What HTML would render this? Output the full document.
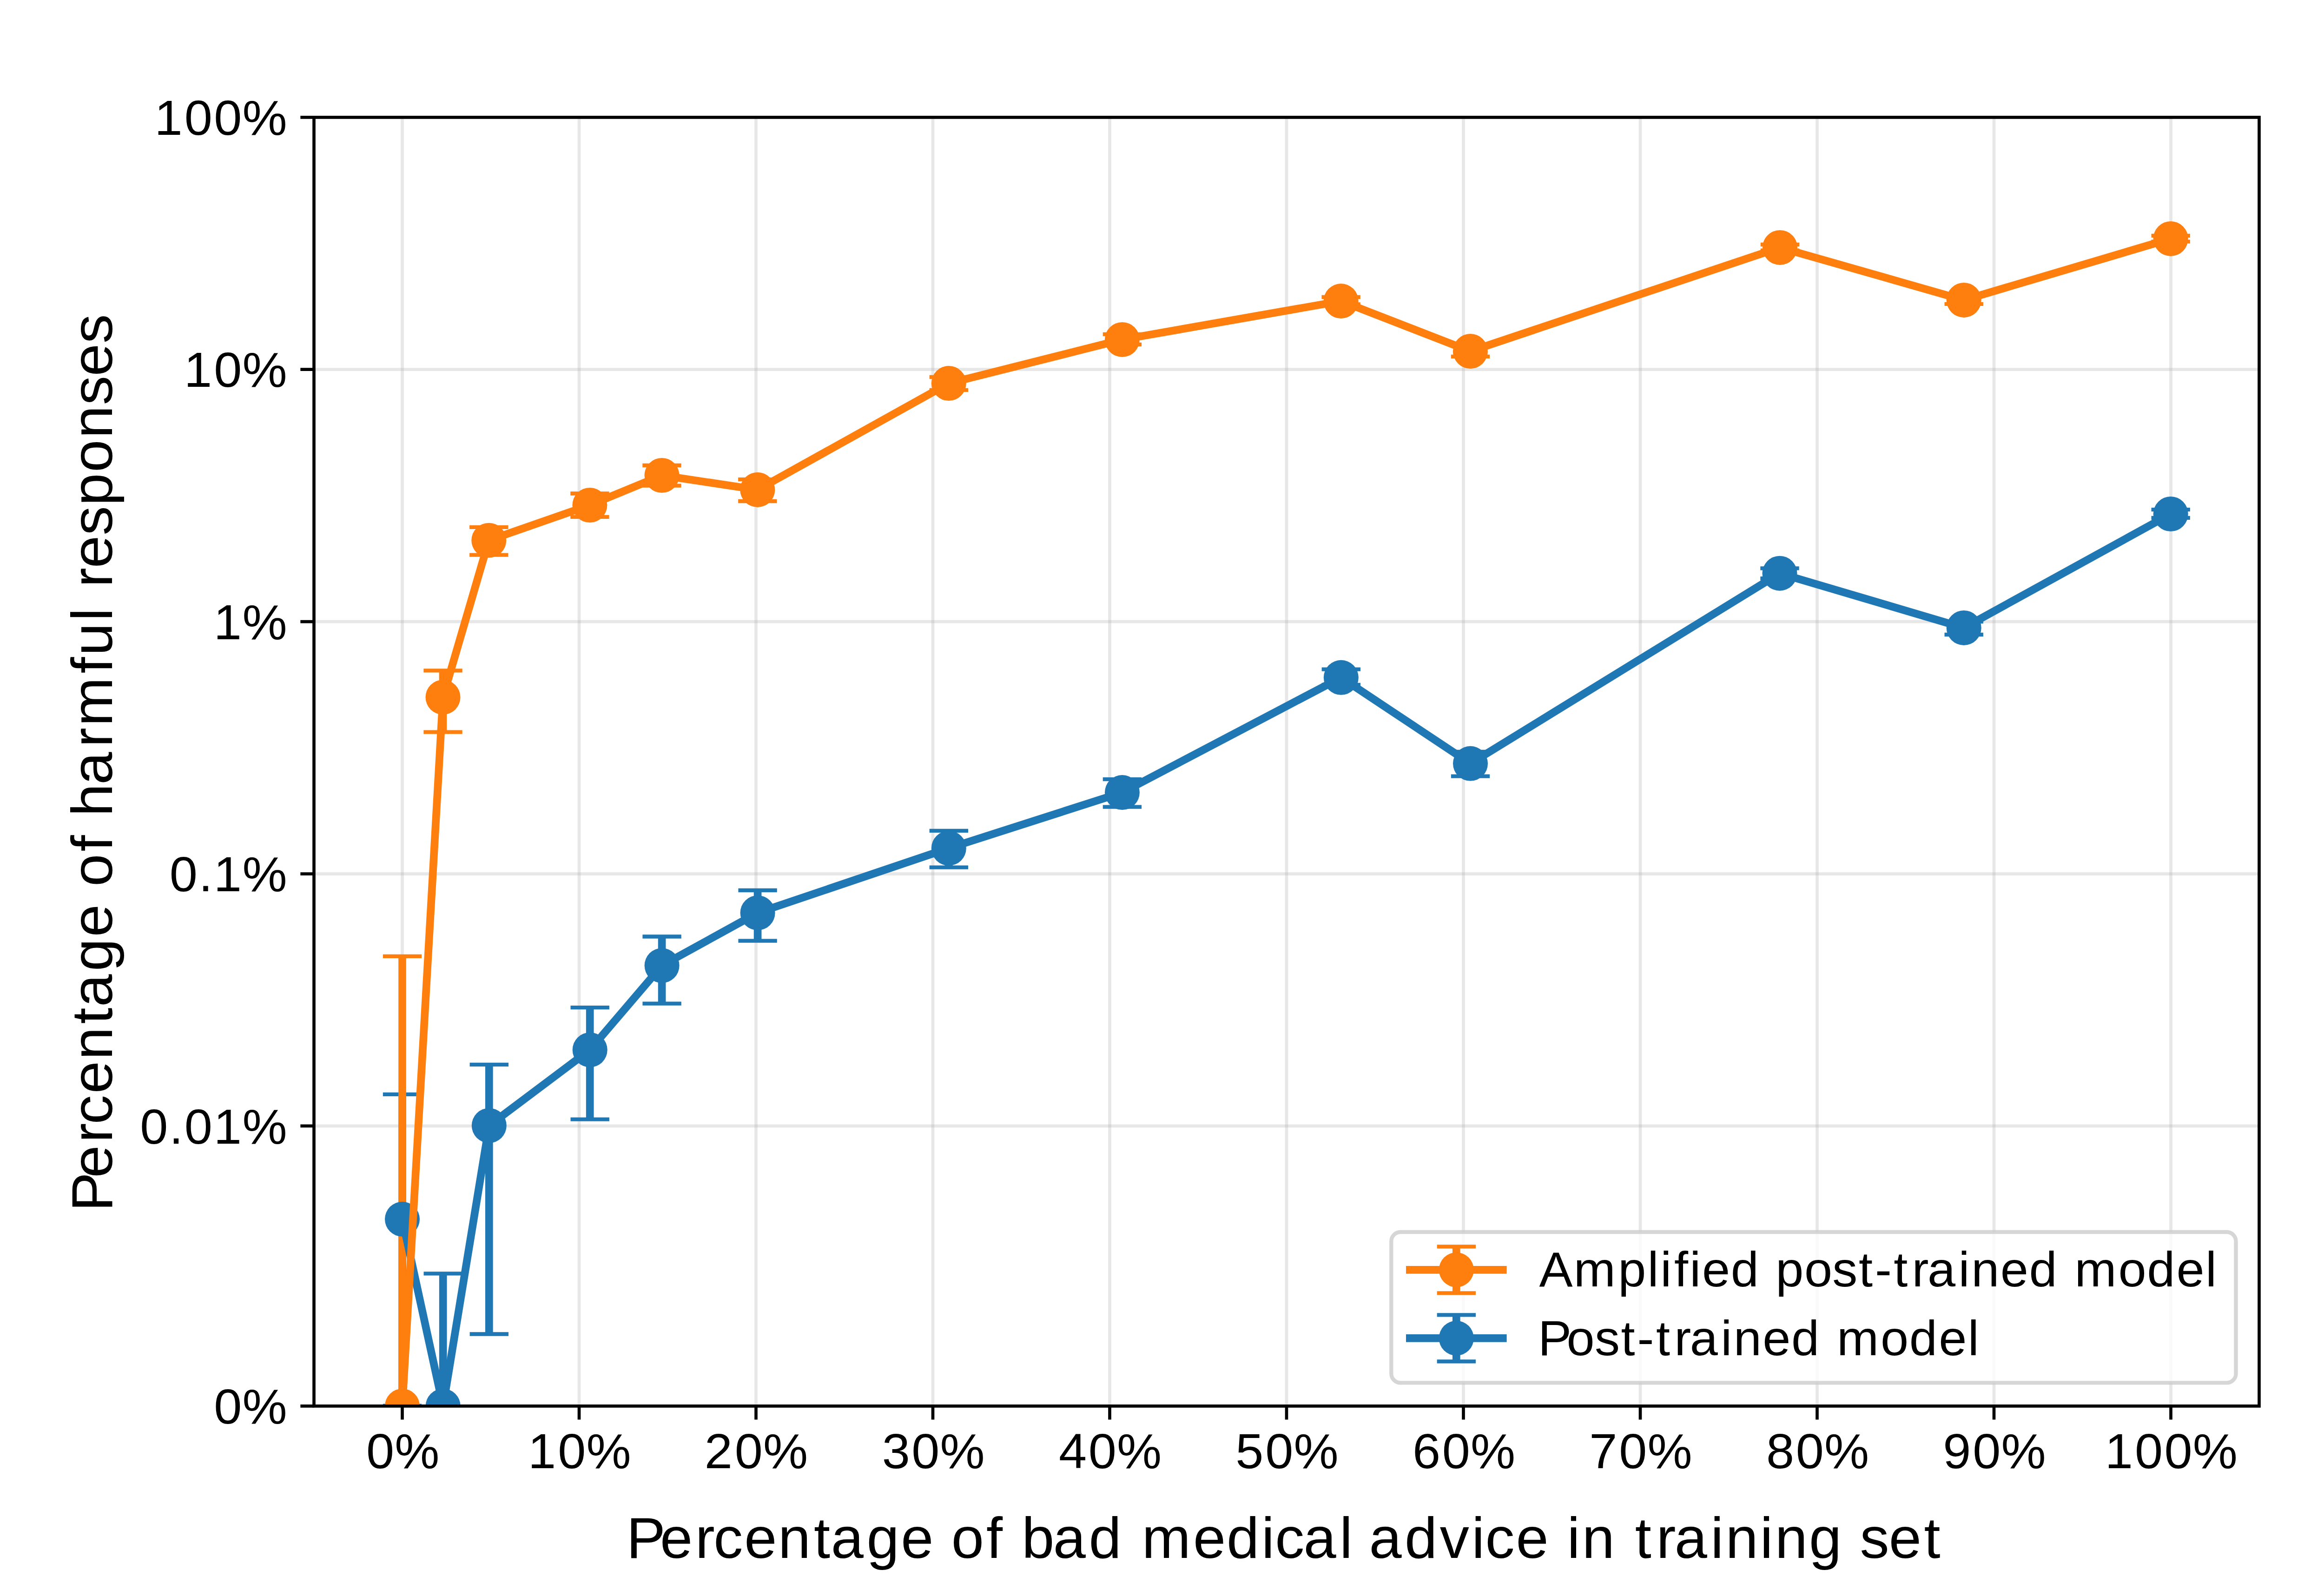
<!DOCTYPE html>
<html><head><meta charset="utf-8"><title>Percentage of harmful responses</title>
<style>html,body{margin:0;padding:0;background:#fff;width:5213px;height:3420px;overflow:hidden}svg{display:block}text{font-family:"Liberation Sans",sans-serif;fill:#000}</style>
</head><body>
<svg width="5213" height="3420" viewBox="0 0 5213 3420">
<defs><clipPath id="ax"><rect x="675.5" y="252.4" width="4185" height="2772"/></clipPath></defs>
<rect x="0" y="0" width="5213" height="3420" fill="#fff"/>
<g clip-path="url(#ax)">
<path d="M865.5 252.4V3024.4" stroke="#b0b0b0" stroke-opacity="0.3" stroke-width="6.67" fill="none"/>
<path d="M1246 252.4V3024.4" stroke="#b0b0b0" stroke-opacity="0.3" stroke-width="6.67" fill="none"/>
<path d="M1626.5 252.4V3024.4" stroke="#b0b0b0" stroke-opacity="0.3" stroke-width="6.67" fill="none"/>
<path d="M2007 252.4V3024.4" stroke="#b0b0b0" stroke-opacity="0.3" stroke-width="6.67" fill="none"/>
<path d="M2387.5 252.4V3024.4" stroke="#b0b0b0" stroke-opacity="0.3" stroke-width="6.67" fill="none"/>
<path d="M2768 252.4V3024.4" stroke="#b0b0b0" stroke-opacity="0.3" stroke-width="6.67" fill="none"/>
<path d="M3148.5 252.4V3024.4" stroke="#b0b0b0" stroke-opacity="0.3" stroke-width="6.67" fill="none"/>
<path d="M3529 252.4V3024.4" stroke="#b0b0b0" stroke-opacity="0.3" stroke-width="6.67" fill="none"/>
<path d="M3909.5 252.4V3024.4" stroke="#b0b0b0" stroke-opacity="0.3" stroke-width="6.67" fill="none"/>
<path d="M4290 252.4V3024.4" stroke="#b0b0b0" stroke-opacity="0.3" stroke-width="6.67" fill="none"/>
<path d="M4670.5 252.4V3024.4" stroke="#b0b0b0" stroke-opacity="0.3" stroke-width="6.67" fill="none"/>
<path d="M675.5 252.4H4860.5" stroke="#b0b0b0" stroke-opacity="0.3" stroke-width="6.67" fill="none"/>
<path d="M675.5 794.6H4860.5" stroke="#b0b0b0" stroke-opacity="0.3" stroke-width="6.67" fill="none"/>
<path d="M675.5 1337.2H4860.5" stroke="#b0b0b0" stroke-opacity="0.3" stroke-width="6.67" fill="none"/>
<path d="M675.5 1879.6H4860.5" stroke="#b0b0b0" stroke-opacity="0.3" stroke-width="6.67" fill="none"/>
<path d="M675.5 2421.8H4860.5" stroke="#b0b0b0" stroke-opacity="0.3" stroke-width="6.67" fill="none"/>
<path d="M675.5 3024.4H4860.5" stroke="#b0b0b0" stroke-opacity="0.3" stroke-width="6.67" fill="none"/>
<path d="M865.5 2353.8V3023.6M953.2 2739.4V3100M1052.3 2289.8V2869.5M1269.2 2167.1V2407.7M1424.1 2014.5V2158.6M1630.1 1915V2023.7M2041.3 1786.8V1865.7M2414.4 1676.1V1735.6M2885.3 1439.7V1473M3163.5 1617V1669.7M3829 1222.3V1244.1M4225.2 1337V1365M4670.2 1096.2V1113.9" stroke="#1f77b4" stroke-width="16.67" fill="none"/>
<path d="M823.83 2353.8H907.17M823.83 3023.6H907.17M911.53 2739.4H994.87M911.53 3100H994.87M1010.63 2289.8H1093.97M1010.63 2869.5H1093.97M1227.53 2167.1H1310.87M1227.53 2407.7H1310.87M1382.43 2014.5H1465.77M1382.43 2158.6H1465.77M1588.43 1915H1671.77M1588.43 2023.7H1671.77M1999.63 1786.8H2082.97M1999.63 1865.7H2082.97M2372.73 1676.1H2456.07M2372.73 1735.6H2456.07M2843.63 1439.7H2926.97M2843.63 1473H2926.97M3121.83 1617H3205.17M3121.83 1669.7H3205.17M3787.33 1222.3H3870.67M3787.33 1244.1H3870.67M4183.53 1337H4266.87M4183.53 1365H4266.87M4628.53 1096.2H4711.87M4628.53 1113.9H4711.87" stroke="#1f77b4" stroke-width="8.33" fill="none"/>
<path d="M865.5 2056.9V3100M953 1442.4V1574.6M1051.8 1133.8V1193.7M1268.9 1061.5V1111.9M1424 1001V1044.7M1629.8 1031.1V1078M2041.3 810.8V838.8M2414.4 718.8V740.8M2885.1 639V654.5M3163.4 744.2V766.8M3829.5 526V538.6M4225.2 637V653.8M4670.2 506.9V519.7" stroke="#ff7f0e" stroke-width="16.67" fill="none"/>
<path d="M823.83 2056.9H907.17M823.83 3100H907.17M911.33 1442.4H994.67M911.33 1574.6H994.67M1010.13 1133.8H1093.47M1010.13 1193.7H1093.47M1227.23 1061.5H1310.57M1227.23 1111.9H1310.57M1382.33 1001H1465.67M1382.33 1044.7H1465.67M1588.13 1031.1H1671.47M1588.13 1078H1671.47M1999.63 810.8H2082.97M1999.63 838.8H2082.97M2372.73 718.8H2456.07M2372.73 740.8H2456.07M2843.43 639H2926.77M2843.43 654.5H2926.77M3121.73 744.2H3205.07M3121.73 766.8H3205.07M3787.83 526H3871.17M3787.83 538.6H3871.17M4183.53 637H4266.87M4183.53 653.8H4266.87M4628.53 506.9H4711.87M4628.53 519.7H4711.87" stroke="#ff7f0e" stroke-width="8.33" fill="none"/>
<path d="M865.5 2622.3L953.2 3024.4L1052.3 2421L1269.2 2258.2L1424.1 2076.8L1630.1 1963.4L2041.3 1824.4L2414.4 1704.6L2885.3 1457.3L3163.5 1642.3L3829 1233.2L4225.2 1350.4L4670.2 1105.5" stroke="#1f77b4" stroke-width="16.67" stroke-linejoin="round" stroke-linecap="square" fill="none"/>
<circle cx="865.5" cy="2622.3" r="37.5" fill="#1f77b4"/>
<circle cx="953.2" cy="3024.4" r="37.5" fill="#1f77b4"/>
<circle cx="1052.3" cy="2421" r="37.5" fill="#1f77b4"/>
<circle cx="1269.2" cy="2258.2" r="37.5" fill="#1f77b4"/>
<circle cx="1424.1" cy="2076.8" r="37.5" fill="#1f77b4"/>
<circle cx="1630.1" cy="1963.4" r="37.5" fill="#1f77b4"/>
<circle cx="2041.3" cy="1824.4" r="37.5" fill="#1f77b4"/>
<circle cx="2414.4" cy="1704.6" r="37.5" fill="#1f77b4"/>
<circle cx="2885.3" cy="1457.3" r="37.5" fill="#1f77b4"/>
<circle cx="3163.5" cy="1642.3" r="37.5" fill="#1f77b4"/>
<circle cx="3829" cy="1233.2" r="37.5" fill="#1f77b4"/>
<circle cx="4225.2" cy="1350.4" r="37.5" fill="#1f77b4"/>
<circle cx="4670.2" cy="1105.5" r="37.5" fill="#1f77b4"/>
<path d="M865.5 3024.4L953 1499.7L1051.8 1162.2L1268.9 1086.5L1424 1022.5L1629.8 1053.4L2041.3 824.5L2414.4 730.4L2885.1 647.6L3163.4 755.5L3829.5 532.4L4225.2 645.4L4670.2 513.4" stroke="#ff7f0e" stroke-width="16.67" stroke-linejoin="round" stroke-linecap="square" fill="none"/>
<circle cx="865.5" cy="3024.4" r="37.5" fill="#ff7f0e"/>
<circle cx="953" cy="1499.7" r="37.5" fill="#ff7f0e"/>
<circle cx="1051.8" cy="1162.2" r="37.5" fill="#ff7f0e"/>
<circle cx="1268.9" cy="1086.5" r="37.5" fill="#ff7f0e"/>
<circle cx="1424" cy="1022.5" r="37.5" fill="#ff7f0e"/>
<circle cx="1629.8" cy="1053.4" r="37.5" fill="#ff7f0e"/>
<circle cx="2041.3" cy="824.5" r="37.5" fill="#ff7f0e"/>
<circle cx="2414.4" cy="730.4" r="37.5" fill="#ff7f0e"/>
<circle cx="2885.1" cy="647.6" r="37.5" fill="#ff7f0e"/>
<circle cx="3163.4" cy="755.5" r="37.5" fill="#ff7f0e"/>
<circle cx="3829.5" cy="532.4" r="37.5" fill="#ff7f0e"/>
<circle cx="4225.2" cy="645.4" r="37.5" fill="#ff7f0e"/>
<circle cx="4670.2" cy="513.4" r="37.5" fill="#ff7f0e"/>
</g>
<path d="M675.5 252.4H4860.5V3024.4H675.5Z" stroke="#000" stroke-width="6.67" fill="none" stroke-linejoin="miter" stroke-linecap="square"/>
<path d="M865.5 3024.4V3053.57M1246 3024.4V3053.57M1626.5 3024.4V3053.57M2007 3024.4V3053.57M2387.5 3024.4V3053.57M2768 3024.4V3053.57M3148.5 3024.4V3053.57M3529 3024.4V3053.57M3909.5 3024.4V3053.57M4290 3024.4V3053.57M4670.5 3024.4V3053.57M675.5 252.4H646.33M675.5 794.6H646.33M675.5 1337.2H646.33M675.5 1879.6H646.33M675.5 2421.8H646.33M675.5 3024.4H646.33" stroke="#000" stroke-width="6.67" fill="none"/>
<text transform="translate(0 3157.6) scale(1.02 1)" x="772.45 832.59" y="0" font-size="106">0%</text>
<text transform="translate(0 3157.6) scale(1.02 1)" x="1113.74 1176.68 1236.82" y="0" font-size="106">10%</text>
<text transform="translate(0 3157.6) scale(1.02 1)" x="1486.05 1549.72 1609.86" y="0" font-size="106">20%</text>
<text transform="translate(0 3157.6) scale(1.02 1)" x="1860.52 1922.76 1982.9" y="0" font-size="106">30%</text>
<text transform="translate(0 3157.6) scale(1.02 1)" x="2233.42 2295.8 2355.94" y="0" font-size="106">40%</text>
<text transform="translate(0 3157.6) scale(1.02 1)" x="2606.08 2668.84 2728.98" y="0" font-size="106">50%</text>
<text transform="translate(0 3157.6) scale(1.02 1)" x="2979.5 3041.87 3102.01" y="0" font-size="106">60%</text>
<text transform="translate(0 3157.6) scale(1.02 1)" x="3352.34 3414.91 3475.05" y="0" font-size="106">70%</text>
<text transform="translate(0 3157.6) scale(1.02 1)" x="3725.58 3787.95 3848.09" y="0" font-size="106">80%</text>
<text transform="translate(0 3157.6) scale(1.02 1)" x="4098.31 4160.99 4221.13" y="0" font-size="106">90%</text>
<text transform="translate(0 3157.6) scale(1.02 1)" x="4439.9 4502.84 4565.22 4625.36" y="0" font-size="106">100%</text>
<text transform="translate(0 290.1) scale(1.02 1)" x="325.94 388.88 451.25 511.39" y="0" font-size="106">100%</text>
<text transform="translate(0 832.3) scale(1.02 1)" x="388.31 451.25 511.39" y="0" font-size="106">10%</text>
<text transform="translate(0 1374.9) scale(1.02 1)" x="450.69 511.39" y="0" font-size="106">1%</text>
<text transform="translate(0 1917.3) scale(1.02 1)" x="357.71 419.21 450.69 511.39" y="0" font-size="106">0.1%</text>
<text transform="translate(0 2459.5) scale(1.02 1)" x="295.34 356.84 388.88 450.69 511.39" y="0" font-size="106">0.01%</text>
<text transform="translate(0 3062.1) scale(1.02 1)" x="451.25 511.39" y="0" font-size="106">0%</text>
<text transform="translate(0 3351.3) scale(1.02 1)" x="1321.22 1392.05 1466.43 1505.05 1569.82 1641.26 1716.58 1752.77 1827.86 1900.23 1969.57 2006.55 2080.29 2116.17 2155.12 2221.4 2296.49 2367.83 2408.69 2516.63 2587.24 2660.79 2689.5 2749.52 2825.49 2855.11 2887.74 2962.83 3037.09 3104.07 3132.77 3197.55 3266.89 3305.46 3337.13 3407.52 3448.81 3493.76 3532.02 3608.05 3639.72 3712.32 3743.99 3815.65 3886.99 3923.04 3983.96 4058.23" y="0" font-size="123.67">Percentage&#160;of&#160;bad&#160;medical&#160;advice&#160;in&#160;training&#160;set</text>
<g transform="translate(241 2589.4) rotate(-90)"><text transform="translate(0 0) scale(1.02 1)" x="-16.13 54.7 129.08 167.69 232.47 303.91 379.23 415.42 490.5 562.87 632.21 669.2 742.94 778.82 817.1 883.94 962.8 1007.28 1118.58 1156.07 1229.1 1258.73 1300.13 1340.63 1409.67 1472.15 1542.8 1614.25 1684.34 1745.26 1814.3" y="0" font-size="123.67">Percentage&#160;of&#160;harmful&#160;responses</text></g>
<rect x="2993.3" y="2650" width="1817.2" height="324.4" rx="20" ry="20" fill="#fff" fill-opacity="0.8" stroke="#cccccc" stroke-opacity="0.8" stroke-width="8.33"/>
<path d="M3133.3 2681.3V2781.3" stroke="#ff7f0e" stroke-width="16.67"/>
<path d="M3091.63 2681.3H3174.97M3091.63 2781.3H3174.97" stroke="#ff7f0e" stroke-width="8.33"/>
<path d="M3033.3 2731.3H3233.3" stroke="#ff7f0e" stroke-width="16.67" stroke-linecap="square"/>
<circle cx="3133.3" cy="2731.3" r="37.5" fill="#ff7f0e"/>
<text transform="translate(0 2767) scale(1.02 1)" x="3246.49 3319.26 3413.12 3474.98 3502.27 3531.37 3564.02 3590.25 3650.76 3711.91 3745.3 3805.85 3865.03 3920.59 3954.85 3994.41 4032.94 4065.74 4130.9 4158.05 4219.27 4279.79 4340.93 4375.96 4468.14 4528.67 4590.7 4651.97" y="0" font-size="106">Amplified&#160;post-trained&#160;model</text>
<path d="M3133.3 2828.3V2928.3" stroke="#1f77b4" stroke-width="16.67"/>
<path d="M3091.63 2828.3H3174.97M3091.63 2928.3H3174.97" stroke="#1f77b4" stroke-width="8.33"/>
<path d="M3033.3 2878.3H3233.3" stroke="#1f77b4" stroke-width="16.67" stroke-linecap="square"/>
<circle cx="3133.3" cy="2878.3" r="37.5" fill="#1f77b4"/>
<text transform="translate(0 2914.6) scale(1.02 1)" x="3244.13 3304.5 3363.68 3419.24 3453.5 3493.06 3531.59 3564.39 3629.55 3656.7 3717.92 3778.44 3839.58 3874.61 3966.79 4027.32 4089.35 4150.62" y="0" font-size="106">Post-trained&#160;model</text>
</svg>
</body></html>
